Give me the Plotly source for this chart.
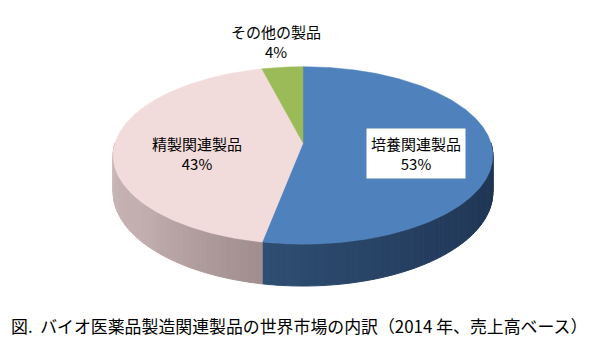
import numpy as np
import plotly.graph_objects as go

# ---- data ----
labels = ["培養関連製品", "精製関連製品", "その他の製品"]
values = [53, 43, 4]
pct_labels = ["53%", "43%", "4%"]
top_colors = ["#4F81BD", "#F2DCDB", "#9BBB59"]
caption = "図.  バイオ医薬品製造関連製品の世界市場の内訳（2014 年、売上高ベース）"

# side-wall gradient stops (from slice cut outward)
side_stops = {
    0: ["#2E4E72", "#243C5E", "#1E324F"],
    1: ["#A08D8D", "#C2AEAE", "#CAB7B7"],
}

# ---- geometry (pixel-like coordinates) ----
CX, CY = 303, 143
A, B, K, H = 188, 87, 0.14, 36


def proj(theta_deg, z=0.0):
    t = np.radians(theta_deg)
    X, Y = np.sin(t), np.cos(t)
    s = 1.0 / (1.0 + K * Y)
    return CX + A * X * s, CY - B * Y * s + H * z * s


def hex2rgb(h):
    h = h.lstrip("#")
    return np.array([int(h[i:i + 2], 16) for i in (0, 2, 4)], float)


def interp(stops, f):
    n = len(stops) - 1
    i = min(int(f * n), n - 1)
    lf = f * n - i
    c = hex2rgb(stops[i]) * (1 - lf) + hex2rgb(stops[i + 1]) * lf
    return "rgb(%d,%d,%d)" % tuple(c.round())


fig = go.Figure()

total = sum(values)
bounds = np.concatenate([[0], np.cumsum(values) / total * 360])

# side walls (visible front half: 90..270 deg)
for i in range(len(values)):
    a0, a1 = bounds[i], bounds[i + 1]
    lo, hi = max(a0, 90), min(a1, 270)
    if lo >= hi or i not in side_stops:
        continue
    n = int(np.ceil((hi - lo) / 2.0))
    edges = np.linspace(lo, hi, n + 1)
    cut = a1 if 90 < a1 < 270 else a0
    far = lo if cut == hi else hi
    for j in range(n):
        e0, e1 = edges[j], edges[j + 1]
        mid = 0.5 * (e0 + e1)
        f = abs(mid - cut) / abs(far - cut)
        col = interp(side_stops[i], min(max(f, 0), 1))
        ts = np.linspace(e0, e1, 4)
        xs_t, ys_t = proj(ts, 0)
        xs_b, ys_b = proj(ts[::-1], 1)
        xs = np.concatenate([xs_t, xs_b, xs_t[:1]])
        ys = np.concatenate([ys_t, ys_b, ys_t[:1]])
        fig.add_trace(go.Scatter(x=xs, y=ys, mode="lines", fill="toself",
                                 fillcolor=col, line=dict(color=col, width=1),
                                 hoverinfo="skip", showlegend=False))

# top faces
for i in range(len(values)):
    a0, a1 = bounds[i], bounds[i + 1]
    ts = np.linspace(a0, a1, max(int((a1 - a0) * 2), 8))
    xs, ys = proj(ts, 0)
    xs = np.concatenate([[CX], xs, [CX]])
    ys = np.concatenate([[CY], ys, [CY]])
    fig.add_trace(go.Scatter(x=xs, y=ys, mode="lines", fill="toself",
                             fillcolor=top_colors[i],
                             line=dict(color=top_colors[i], width=0.5),
                             hoverinfo="skip", showlegend=False))

font_lbl = dict(family="Noto Sans CJK JP", size=15, color="#000000")
label_pos = [(416, 153), (197, 153), (276, 41)]
for i in range(len(values)):
    x, y = label_pos[i]
    ann = dict(x=x, y=y, xref="x", yref="y", showarrow=False,
               text=f"{labels[i]}<br>{pct_labels[i]}", font=font_lbl,
               align="center")
    if i == 0:
        ann.update(bgcolor="white", borderpad=4)
    fig.add_annotation(**ann)

fig.add_annotation(x=298.5, y=325, xref="x", yref="y", showarrow=False,
                   text=caption,
                   font=dict(family="Noto Sans CJK JP", size=16.9, color="#000000"))

fig.update_layout(
    width=600, height=341,
    margin=dict(l=0, r=0, t=0, b=0),
    paper_bgcolor="white", plot_bgcolor="white",
    xaxis=dict(range=[0, 600], visible=False, fixedrange=True),
    yaxis=dict(range=[341, 0], visible=False, fixedrange=True),
    showlegend=False,
)

fig.write_html("out.html")
